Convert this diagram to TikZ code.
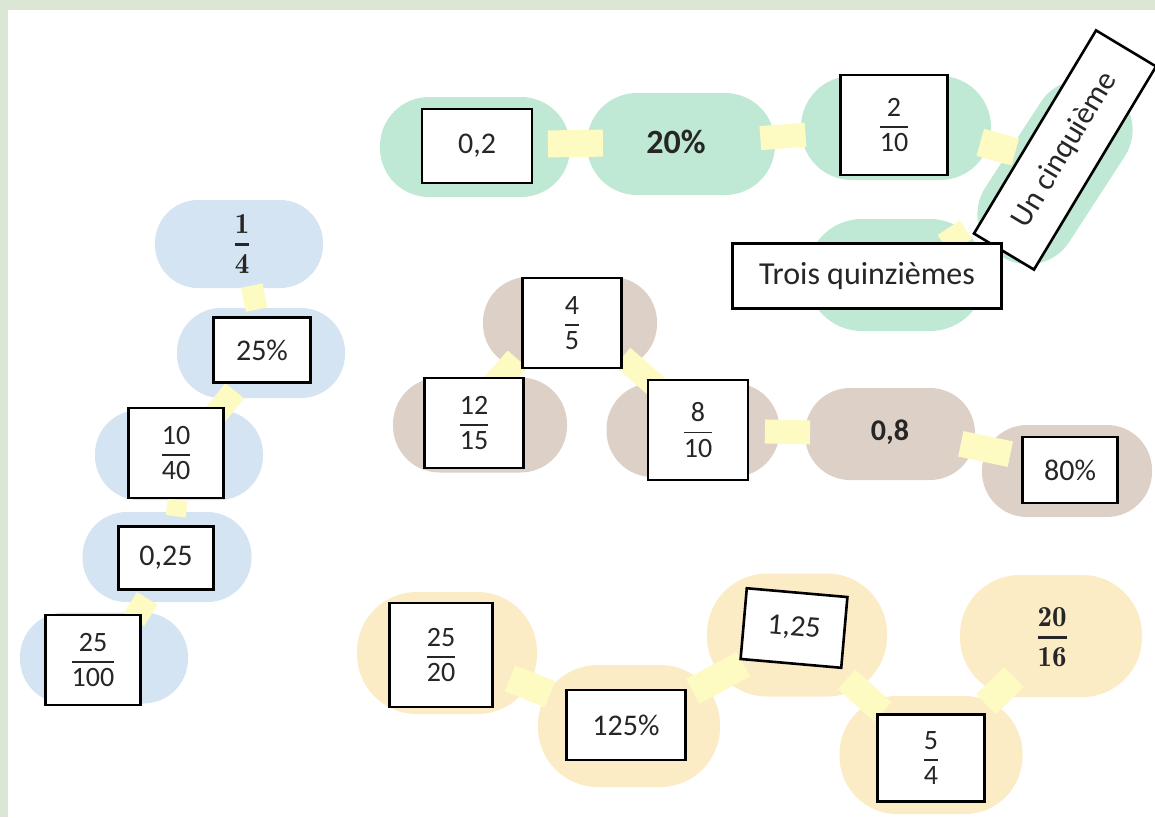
\documentclass[tikz,border=0pt]{standalone}
\usepackage{fontspec}
\setmainfont{Carlito}
\usetikzlibrary{calc}
\definecolor{framec}{HTML}{DCE6D5}
\definecolor{gfill}{HTML}{C0E9D5}
\definecolor{bfill}{HTML}{D5E4F3}
\definecolor{rfill}{HTML}{DDD0C7}
\definecolor{yfill}{HTML}{FCECC5}
\definecolor{tabc}{HTML}{FDFAC2}
\definecolor{inkc}{HTML}{262626}
\newcommand\fr[2]{$\displaystyle{\mbox{#1}\above 1.8pt\mbox{#2}}$}
\newcommand\bfr[2]{{\fontfamily{lmr}\bfseries\selectfont$\displaystyle{\mbox{#1}\above 2.8pt\mbox{#2}}$}}
\newcommand\tabk[6]{\draw[conn=#6] ($(#1)!#3!(#2)+(#5)$) -- ($(#1)!#4!(#2)+(#5)$);}
\tikzset{
  blob/.style 2 args={draw=none, inner sep=0pt, minimum width=#1pt, minimum height=#2pt, rounded corners=#2*0.49pt},
  box/.style 2 args={draw=black, line width=2.6pt, fill=white, inner sep=0pt, minimum width=#1pt, minimum height=#2pt, text=inkc},
  conn/.style={draw=tabc, line width=#1pt},
  fracfont/.style={font=\fontsize{28}{32}\selectfont},
  boldtxt/.style={text=inkc, font=\fontsize{30}{34}\selectfont\bfseries},
}
\begin{document}
\begin{tikzpicture}[x=1pt,y=-1pt,font=\fontsize{30}{34}\selectfont]
\useasboundingbox (0,0) rectangle (1155,817);
\fill[framec] (0,0) rectangle (1155,817);
\fill[white] (8,10) rectangle (1155,817);

% ---------- blobs ----------
% green
\node[blob={190}{100},fill=gfill] (g1) at (475,147) {};
\node[blob={188}{102},fill=gfill] (g2) at (681,144) {};
\node[blob={190}{104},fill=gfill] (g3) at (896,128) {};
\node[blob={200}{100},fill=gfill,rotate=57] (g4) at (1055,172) {};
\node[blob={178}{112},fill=gfill] (g5) at (896,275) {};
% blue
\node[blob={168}{88},fill=bfill] (b1) at (239,244) {};
\node[blob={168}{90},fill=bfill] (b2) at (261,353) {};
\node[blob={168}{90},fill=bfill] (b3) at (179,455) {};
\node[blob={169}{90},fill=bfill] (b4) at (167,557) {};
\node[blob={168}{91},fill=bfill] (b5) at (104,658) {};
% brown
\node[blob={174}{92},fill=rfill] (r1) at (570,323) {};
\node[blob={174}{95},fill=rfill] (r2) at (480,425) {};
\node[blob={173}{94},fill=rfill] (r3) at (693,430) {};
\node[blob={170}{92},fill=rfill] (r4) at (890,434) {};
\node[blob={170}{92},fill=rfill] (r5) at (1067,471) {};
% yellow
\node[blob={180}{122},fill=yfill] (y1) at (447,653) {};
\node[blob={182}{122},fill=yfill] (y2) at (629,726) {};
\node[blob={180}{123},fill=yfill] (y3) at (797,635) {};
\node[blob={183}{118},fill=yfill] (y4) at (931,755) {};
\node[blob={182}{122},fill=yfill] (y5) at (1051,636) {};

% ---------- connectors ----------
\tabk{g1}{g2}{0.354}{0.621}{0,-2}{27}
\tabk{g2}{g3}{0.369}{0.579}{0,0}{24}
\tabk{g3}{g4}{0.53}{0.75}{0,-9}{28}
\tabk{g4}{g5}{0.56}{0.70}{0,0}{22}

\tabk{b1}{b2}{0.40}{0.62}{4,-2}{22}
\tabk{b2}{b3}{0.37}{0.61}{4,0}{24}
\tabk{b3}{b4}{0.44}{0.60}{4,0}{20}
\tabk{b4}{b5}{0.41}{0.62}{6,0}{24}

\tabk{r2}{r1}{0.15}{0.45}{-3,-20}{26}
\tabk{r1}{r3}{0.41}{0.69}{2,-10}{24}
\tabk{r3}{r4}{0.365}{0.594}{0,0}{24}
\tabk{r4}{r5}{0.40}{0.68}{0,-5}{26}

\tabk{y1}{y2}{0.346}{0.566}{0,0}{28}
\tabk{y2}{y3}{0.38}{0.68}{0,0}{28}
\tabk{y3}{y4}{0.37}{0.64}{0,0}{26}
\tabk{y4}{y5}{0.46}{0.69}{0,4}{28}

% ---------- cards and labels ----------
% green
\node[box={110}{74}] (t02) at (477,146) {0,2};
\node[boldtxt,font=\fontsize{34}{38}\selectfont\bfseries] (t20p) at (676,142) {20\%};
\node[box={107}{100},fracfont] (t210) at (894,125) {\fr{2}{10}};
\node[box={237}{70},rotate=59,font=\fontsize{31}{34}\selectfont] (t15) at (1065,150) {Un cinquième};
\node[box={269}{65},font=\fontsize{32}{35}\selectfont] (t315) at (867,276) {Trois quinzièmes};
% blue
\node[text=inkc,font=\fontsize{29}{32}\selectfont] (t14) at (242,244) {\bfr{1}{4}};
\node[box={97}{65}] (t25p) at (262,350) {25\%};
\node[box={95}{90},fracfont] (t1040) at (176,453) {\fr{10}{40}};
\node[box={95}{63}] (t025) at (166,558) {0,25};
\node[box={95}{90},fracfont] (t25100) at (93,660) {\fr{25}{100}};
% brown
\node[box={99}{90},fracfont] (t45) at (572,323) {\fr{4}{5}};
\node[box={99}{90},fracfont] (t1215) at (474,423) {\fr{12}{15}};
\node[box={100}{100},fracfont] (t810) at (698,430) {\fr{8}{10}};
\node[boldtxt] (t08) at (890,432) {0,8};
\node[box={95}{66}] (t80p) at (1070,470) {80\%};
% yellow
\node[box={103}{104},fracfont] (t2520) at (441,655) {\fr{25}{20}};
\node[box={119}{70}] (t125p) at (626,725) {125\%};
\node[box={101}{71},rotate=-5] (t125) at (794,628) {1,25};
\node[box={107}{87},fracfont] (t54) at (931,758) {\fr{5}{4}};
\node[text=inkc,font=\fontsize{29}{32}\selectfont] (t2016) at (1052,637) {\bfr{20}{16}};
\end{tikzpicture}
\end{document}
